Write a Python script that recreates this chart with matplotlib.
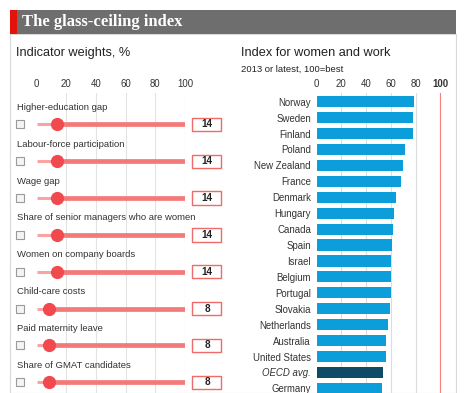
import matplotlib
matplotlib.use('Agg')
import matplotlib.pyplot as plt
from matplotlib import font_manager
from matplotlib.patches import Rectangle

# Шрифт: узкий, если есть
names = {f.name for f in font_manager.fontManager.ttflist}
narrow = 'Liberation Sans Narrow' if 'Liberation Sans Narrow' in names else 'Liberation Sans'
plt.rcParams['font.family'] = [narrow, 'DejaVu Sans']

# Данные
indicators = ['Higher-education gap', 'Labour-force participation', 'Wage gap',
              'Share of senior managers who are women', 'Women on company boards',
              'Child-care costs', 'Paid maternity leave', 'Share of GMAT candidates']
weights = [14, 14, 14, 14, 14, 8, 8, 8]

countries = ['Norway', 'Sweden', 'Finland', 'Poland', 'New Zealand', 'France', 'Denmark',
             'Hungary', 'Canada', 'Spain', 'Israel', 'Belgium', 'Portugal', 'Slovakia',
             'Netherlands', 'Australia', 'United States', 'OECD avg.', 'Germany']
index_values = [78.6, 78.1, 77.5, 71.4, 69.5, 67.9, 64.1, 62.5, 61.7, 61.2, 60.3, 60.3,
                60.2, 59.3, 57.4, 56.0, 56.0, 53.9, 53.1]
ticks = [0, 20, 40, 60, 80, 100]

W, H = 467, 393
fig = plt.figure(figsize=(W / 100, H / 100), dpi=100)

def fx(px):
    return px / W

def fy(py):
    return 1 - py / H

# Заголовок и рамка панели
fig.patches.append(Rectangle((fx(10), fy(393)), fx(446), fy(34) - fy(393),
                             transform=fig.transFigure, facecolor='white',
                             edgecolor='#d9d9d9', lw=0.8, zorder=0))
fig.patches.append(Rectangle((fx(10), fy(34)), fx(446), fy(10) - fy(34),
                             transform=fig.transFigure, facecolor='#6e6e6e', lw=0, zorder=1))
fig.patches.append(Rectangle((fx(10), fy(34)), fx(7), fy(10) - fy(34),
                             transform=fig.transFigure, facecolor='#e3120b', lw=0, zorder=2))
fig.text(fx(22), fy(22), 'The glass-ceiling index', color='white', fontsize=12,
         fontweight='bold', family='Liberation Serif', va='center', ha='left')

fig.text(fx(16), fy(53), 'Indicator weights, %', fontsize=9.2, color='#222222', va='center')
fig.text(fx(241), fy(53), 'Index for women and work', fontsize=9.2, color='#222222', va='center')
fig.text(fx(241), fy(69.5), '2013 or latest, 100=best', fontsize=6.8, color='#222222', va='center')

# Левая панель: ползунки
top, bottom = 93, 393
axl = fig.add_axes([fx(36.7), fy(bottom), fx(148.3), fy(top) - fy(bottom)], zorder=5)
axl.patch.set_visible(False)
axl.set_xlim(0, 100)
axl.set_ylim(7.29, -0.85)
for t in ticks[1:]:
    axl.axvline(t, color='#e3e3e3', lw=0.8, zorder=0)
axl.set_xticks(ticks)
axl.xaxis.tick_top()
axl.tick_params(axis='x', length=0, pad=3, labelsize=6.9, labelcolor='#333333')
axl.set_yticks([])
for s in axl.spines.values():
    s.set_visible(False)

for i, (name, w) in enumerate(zip(indicators, weights)):
    axl.text(-13.5, i - 0.46, name, fontsize=6.8, color='#333333', va='center', ha='left',
             clip_on=False)
    axl.plot([0, w], [i, i], color='#f9a3a3', lw=2.2, solid_capstyle='butt', zorder=2)
    axl.plot([w, 100], [i, i], color='#f47a7a', lw=3.4, solid_capstyle='butt', zorder=2)
    axl.plot([w], [i], 'o', color='#f04a4f', ms=8.5, mec='#f04a4f', zorder=3)
    axl.plot([-11], [i], 's', ms=6, mfc='#f4f4f4', mec='#9a9a9a', mew=0.8, clip_on=False)
    axl.add_patch(Rectangle((105, i - 0.18), 19.6, 0.36, facecolor='white',
                            edgecolor='#f06a6a', lw=1, clip_on=False))
    axl.text(114.8, i, str(w), fontsize=7.2, fontweight='bold', color='#222222',
             ha='center', va='center', clip_on=False)

# Правая панель: индекс
axr = fig.add_axes([fx(316.5), fy(bottom), fx(124), fy(top) - fy(bottom)], zorder=5)
axr.patch.set_visible(False)
colors = ['#0f4b66' if c == 'OECD avg.' else '#0c9ddb' for c in countries]
axr.barh(range(len(countries)), index_values, height=0.7, color=colors, zorder=2)
axr.set_xlim(0, 100)
axr.set_ylim(18.29, -0.546)
for t in [20, 40, 60, 80]:
    axr.axvline(t, color='#dcdcdc', lw=0.8, zorder=0)
axr.axvline(100, color='#f58080', lw=1.6, zorder=1)
axr.set_xticks(ticks)
axr.xaxis.tick_top()
axr.tick_params(axis='x', length=0, pad=3, labelsize=6.9, labelcolor='#333333')
axr.get_xticklabels()[-1].set_fontweight('bold')
axr.set_yticks(range(len(countries)))
axr.set_yticklabels(countries)
axr.tick_params(axis='y', length=0, pad=4, labelsize=6.9, labelcolor='#333333')
for lab in axr.get_yticklabels():
    if lab.get_text() == 'OECD avg.':
        lab.set_fontstyle('italic')
for s in axr.spines.values():
    s.set_visible(False)

fig.savefig('out.png', dpi=100)
